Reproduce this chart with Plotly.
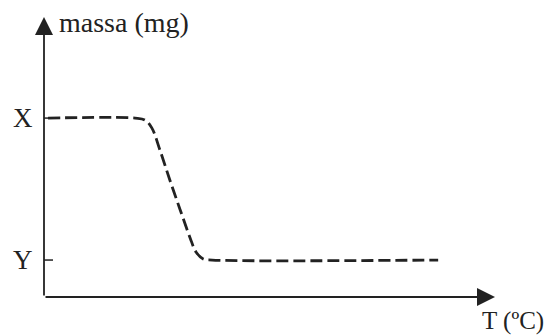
import plotly.graph_objects as go

# Data (arbitrary units)
temperature = [0.9, 20.2, 22.4, 23.9, 25.7, 27.9, 30.2, 32.4, 33.7, 35.3, 37.3, 87.4]
mass = [63.9, 63.9, 63.2, 60.4, 52.5, 41.8, 31.1, 21.1, 16.1, 13.6, 13.2, 13.2]
level_vals = [63.9, 13.2]
level_labels = ["X", "Y"]
x_title = "T (ºC)"
y_title = "massa (mg)"

FONT = "Liberation Serif, Times New Roman, serif"
INK = "#222222"

fig = go.Figure()
fig.add_trace(go.Scatter(
    x=temperature, y=mass, mode="lines", line_shape="spline",
    line=dict(color=INK, width=2.8, dash="12px,5px"),
    hoverinfo="skip", showlegend=False,
))

annotations = []
# axes with arrows
annotations.append(dict(x=0, y=100, ax=0, ay=0, xref="x", yref="y", axref="x", ayref="y",
                        showarrow=True, arrowhead=2, arrowsize=2.0, arrowwidth=1.8,
                        arrowcolor=INK, text=""))
annotations.append(dict(x=100, y=0, ax=0, ay=0, xref="x", yref="y", axref="x", ayref="y",
                        showarrow=True, arrowhead=2, arrowsize=2.0, arrowwidth=1.8,
                        arrowcolor=INK, text=""))
# axis titles
annotations.append(dict(text=y_title, xref="paper", yref="paper", x=0, y=1,
                        xanchor="left", yanchor="middle", xshift=13, yshift=-5,
                        showarrow=False, font=dict(family=FONT, size=28, color=INK)))
annotations.append(dict(text=x_title, xref="paper", yref="paper", x=1, y=0,
                        xanchor="left", yanchor="middle", xshift=-15, yshift=-24,
                        showarrow=False, font=dict(family=FONT, size=25, color=INK)))

shapes = []
for v, lab in zip(level_vals, level_labels):
    annotations.append(dict(text=lab, xref="paper", yref="y", x=0, y=v,
                            xanchor="right", yanchor="middle", xshift=-9,
                            showarrow=False, font=dict(family=FONT, size=27, color=INK)))
    shapes.append(dict(type="line", xref="x", yref="y", xsizemode="pixel", xanchor=0,
                       x0=-8, x1=9, y0=v, y1=v, line=dict(color=INK, width=1.5)))

fig.update_layout(
    width=552, height=336,
    margin=dict(l=44, r=57, t=17, b=39),
    paper_bgcolor="white", plot_bgcolor="white",
    xaxis=dict(range=[0, 100], visible=False, fixedrange=True),
    yaxis=dict(range=[0, 100], visible=False, fixedrange=True),
    annotations=annotations, shapes=shapes,
)
fig.write_html("out.html", config={"displayModeBar": False, "staticPlot": True},
               post_script="document.body.style.margin='0';document.body.style.overflow='hidden';")
